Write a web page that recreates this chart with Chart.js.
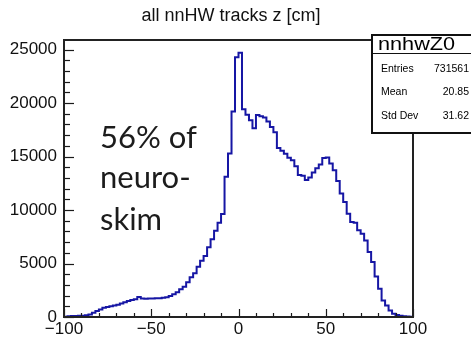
<!DOCTYPE html>
<html>
<head>
<meta charset="utf-8">
<script src="https://cdn.jsdelivr.net/npm/chart.js@4.4.1/dist/chart.umd.min.js"></script>
<style>
  html, body { margin: 0; padding: 0; background: #fff; }
</style>
</head>
<body>
<canvas id="zChart" width="471" height="338"></canvas>
<script>
// nnHW track z: 100 bins of 2 cm between -100 and 100
const zMin = -100;
const binWidth = 2;
const counts = [
     30,    70,    90,   100,   110,   120,   160,   240,   400,   560,
    700,   860,   940,  1000,  1070,  1150,  1270,  1380,  1500,  1580,
   1660,  1870,  1740,  1700,  1720,  1730,  1750,  1760,  1790,  1840,
   1960,  2120,  2310,  2590,  2830,  3240,  3710,  4080,  4700,  5260,
   5700,  6510,  7260,  8070,  8810,  9630, 13100, 15280, 19200, 24270,
  24700, 19420, 18900, 18400, 17630, 18870, 18770, 18650, 18280, 17750,
  17270, 15800, 15550, 15250, 14880, 14660, 14080, 13280, 13200, 12800,
  13050, 13500, 13900, 14250, 14870, 14900, 14340, 13720, 12720, 11540,
  10750,  9660,  8880,  8820,  8100,  7790,  7160,  6070,  5130,  3790,
   2640,  1545,  1080,   610,   300,   180,   120,    80,    50,    30
];

const xTicks = [-100, -50, 0, 50, 100];
const yTicks = [0, 5000, 10000, 15000, 20000, 25000];
const xMinorStep = 10;
const yMinorStep = 1000;
const yMax = 25890;

const title = 'all nnHW tracks z [cm]';
const histName = 'nnhwZ0';
const statNames = ['Entries', 'Mean', 'Std Dev'];
const statValues = ['731561', '20.85', '31.62'];
const noteLines = ['56% of', 'neuro-', 'skim'];

// step outline: each bin's low edge, plus the closing edge at +100
const points = counts.map((c, i) => ({ x: zMin + i * binWidth, y: c }));
points.push({ x: zMin + counts.length * binWidth, y: counts[counts.length - 1] });

const axisFont = { family: 'Liberation Sans', size: 17 };
const fmt = v => String(v).replace('-', '\u2212');

// title, frame with inward ticks, the note text and the stats box
const rootFrame = {
  id: 'rootFrame',
  afterDatasetsDraw(chart) {
    const { ctx, chartArea: a, scales } = chart;
    ctx.save();
    ctx.strokeStyle = '#1a1a1a';
    ctx.lineWidth = 1.2;
    for (let v = 0; v <= yMax; v += yMinorStep) {
      const py = Math.round(scales.y.getPixelForValue(v)) + 0.5;
      const len = v % 5000 === 0 ? 10 : 6;
      ctx.beginPath();
      ctx.moveTo(a.left, py);
      ctx.lineTo(a.left + len, py);
      ctx.stroke();
    }
    for (let v = xTicks[0]; v <= xTicks[xTicks.length - 1]; v += xMinorStep) {
      const px = Math.round(scales.x.getPixelForValue(v)) + 0.5;
      const len = v % 50 === 0 ? 8 : 4;
      ctx.beginPath();
      ctx.moveTo(px, a.bottom);
      ctx.lineTo(px, a.bottom - len);
      ctx.stroke();
    }
    ctx.lineWidth = 2;
    ctx.strokeStyle = '#222';
    ctx.strokeRect(a.left, a.top, a.right - a.left, a.bottom - a.top);
    ctx.restore();
  },
  afterDraw(chart) {
    const { ctx } = chart;
    ctx.save();
    ctx.fillStyle = '#111';
    ctx.font = '18px Liberation Sans';
    ctx.textAlign = 'center';
    ctx.textBaseline = 'alphabetic';
    ctx.fillText(title, 231, 21);

    // note text
    ctx.fillStyle = '#1c1c1c';
    ctx.font = '31px Lato';
    ctx.textAlign = 'left';
    const baselines = [148, 188, 230];
    noteLines.forEach((t, i) => ctx.fillText(t, 100, baselines[i]));

    // stats box, running off the right edge
    const bx = 372, by = 35, bw = 104, bh = 98;
    ctx.fillStyle = '#fff';
    ctx.fillRect(bx, by, bw, bh);
    ctx.strokeStyle = '#111';
    ctx.lineWidth = 2;
    ctx.strokeRect(bx, by, bw, bh);
    ctx.lineWidth = 1.2;
    ctx.beginPath();
    ctx.moveTo(bx, by + 18.5);
    ctx.lineTo(bx + bw, by + 18.5);
    ctx.stroke();

    ctx.fillStyle = '#000';
    ctx.save();
    ctx.translate(378, by + 15);
    ctx.scale(1.14, 1);
    ctx.font = '19px Liberation Sans';
    ctx.textAlign = 'left';
    ctx.fillText(histName, 0, 0);
    ctx.restore();

    ctx.font = '10.5px Liberation Sans';
    const rows = [72, 95, 119];
    statNames.forEach((n, i) => {
      ctx.textAlign = 'left';
      ctx.fillText(n, 381, rows[i]);
      ctx.textAlign = 'right';
      ctx.fillText(statValues[i], 469, rows[i]);
    });
    ctx.restore();
  }
};

new Chart(document.getElementById('zChart'), {
  type: 'line',
  data: {
    datasets: [{
      label: histName,
      data: points,
      stepped: 'before',
      borderColor: '#1616a4',
      borderWidth: 2,
      pointRadius: 0,
      fill: false,
      tension: 0
    }]
  },
  options: {
    responsive: false,
    animation: false,
    devicePixelRatio: 1,
    layout: { padding: { left: 0, right: 58, top: 40, bottom: 0 } },
    plugins: {
      legend: { display: false },
      tooltip: { enabled: false },
      title: { display: false }
    },
    scales: {
      x: {
        type: 'linear',
        min: xTicks[0],
        max: xTicks[xTicks.length - 1],
        grid: { display: false, drawTicks: false },
        border: { display: false },
        afterBuildTicks: s => { s.ticks = xTicks.map(v => ({ value: v })); },
        afterFit: s => { s.height = 21; },
        ticks: {
          color: '#111',
          font: axisFont,
          padding: 2,
          autoSkip: false,
          maxRotation: 0,
          callback: v => fmt(v)
        }
      },
      y: {
        type: 'linear',
        min: 0,
        max: yMax,
        grid: { display: false, drawTicks: false },
        border: { display: false },
        afterBuildTicks: s => { s.ticks = yTicks.map(v => ({ value: v })); },
        afterFit: s => { s.width = 64; },
        ticks: {
          color: '#111',
          font: axisFont,
          padding: 7,
          autoSkip: false,
          callback: v => String(v)
        }
      }
    }
  },
  plugins: [rootFrame]
});
</script>
</body>
</html>
